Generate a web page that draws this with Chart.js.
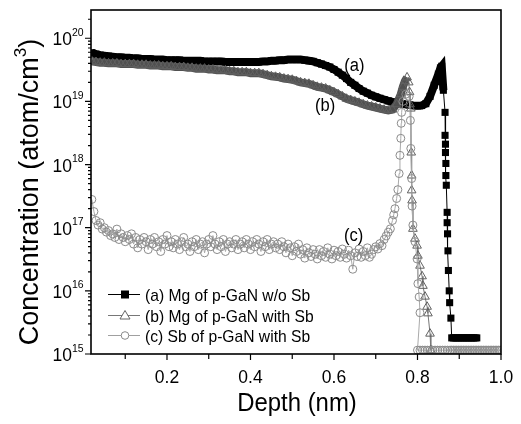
<!DOCTYPE html>
<html><head><meta charset="utf-8">
<script src="https://cdn.jsdelivr.net/npm/chart.js@4.4.1/dist/chart.umd.min.js"></script>
<style>html,body{margin:0;padding:0;background:#fff}</style>
</head><body>
<canvas id="c" width="521" height="424"></canvas>
<script>
// ---------- DATA ----------
const depthA = [
0.02,0.03,0.04,0.05,0.06,0.07,0.08,0.09,0.10,0.11,
0.12,0.13,0.14,0.15,0.16,0.17,0.18,0.19,0.20,0.21,
0.22,0.23,0.24,0.25,0.26,0.27,0.28,0.29,0.30,0.31,
0.32,0.33,0.34,0.35,0.36,0.37,0.38,0.39,0.40,0.41,
0.42,0.43,0.44,0.45,0.46,0.47,0.48,0.49,0.50,0.51,
0.52,0.53,0.54,0.55,0.56,0.57,0.58,0.59,0.60,0.61,
0.62,0.63,0.64,0.65,0.66,0.67,0.68,0.69,0.70,0.71,
0.72,0.73,0.74,0.75,0.76,0.77,0.78,0.79,0.80,0.81,
0.82,0.83,0.84,0.85,0.855,0.858,0.862,
0.866,0.866,0.867,0.867,0.868,0.868,0.869,0.871,0.871,0.872,0.873,0.874,0.876,0.877,0.880,0.882,
0.886,0.890,0.894,0.898,0.902,0.906,0.910,0.914,0.918,0.922,0.926,0.930,0.934,0.938,0.942];
const concA = [
5.9e19,5.6e19,5.4e19,5.3e19,5.2e19,5.1e19,5.0e19,5.0e19,4.9e19,4.9e19,
4.8e19,4.8e19,4.7e19,4.7e19,4.7e19,4.6e19,4.6e19,4.6e19,4.5e19,4.5e19,
4.5e19,4.5e19,4.4e19,4.4e19,4.4e19,4.4e19,4.4e19,4.3e19,4.3e19,4.3e19,
4.3e19,4.3e19,4.2e19,4.2e19,4.2e19,4.2e19,4.2e19,4.2e19,4.2e19,4.2e19,
4.2e19,4.3e19,4.3e19,4.4e19,4.4e19,4.5e19,4.5e19,4.6e19,4.6e19,4.6e19,
4.6e19,4.5e19,4.4e19,4.3e19,4.1e19,3.9e19,3.7e19,3.5e19,3.2e19,2.9e19,
2.6e19,2.3e19,2.0e19,1.8e19,1.6e19,1.45e19,1.35e19,1.25e19,1.18e19,1.12e19,
1.07e19,1.02e19,9.8e18,9.5e18,9.2e18,9.0e18,8.8e18,8.6e18,8.5e18,8.6e18,
9.2e18,1.2e19,1.8e19,2.7e19,3.4e19,3.6e19,1.5e19,
6.7e18,2.9e18,2.1e18,1.55e18,1.04e18,6.7e17,4.7e17,1.75e17,1.2e17,8e16,4.3e16,2.1e16,1.0e16,6.5e15,3.7e15,1.8e15,
1.8e15,1.8e15,1.8e15,1.8e15,1.8e15,1.8e15,1.8e15,1.8e15,1.8e15,1.8e15,1.8e15,1.8e15,1.8e15,1.8e15,1.8e15];

const depthB = [
0.02,0.03,0.04,0.05,0.06,0.07,0.08,0.09,0.10,0.11,
0.12,0.13,0.14,0.15,0.16,0.17,0.18,0.19,0.20,0.21,
0.22,0.23,0.24,0.25,0.26,0.27,0.28,0.29,0.30,0.31,
0.32,0.33,0.34,0.35,0.36,0.37,0.38,0.39,0.40,0.41,
0.42,0.43,0.44,0.45,0.46,0.47,0.48,0.49,0.50,0.51,
0.52,0.53,0.54,0.55,0.56,0.57,0.58,0.59,0.60,0.61,
0.62,0.63,0.64,0.65,0.66,0.67,0.68,0.69,0.70,0.71,
0.72,0.73,0.74,0.75,0.76,0.765,0.77,0.775,
0.779,0.781,0.782,0.784,0.785,0.786,0.786,0.787,0.789,0.794,0.799,0.801,0.806,0.811,0.813,0.818,0.823,0.825,0.830,0.832];
const concB = [
4.3e19,4.2e19,4.1e19,4.1e19,4.0e19,4.0e19,4.0e19,3.9e19,3.9e19,3.9e19,
3.9e19,3.8e19,3.8e19,3.8e19,3.7e19,3.7e19,3.7e19,3.6e19,3.6e19,3.6e19,
3.5e19,3.5e19,3.5e19,3.4e19,3.4e19,3.3e19,3.3e19,3.3e19,3.2e19,3.2e19,
3.1e19,3.1e19,3.1e19,3.0e19,3.0e19,2.9e19,2.9e19,2.9e19,2.8e19,2.8e19,
2.8e19,2.7e19,2.6e19,2.5e19,2.45e19,2.4e19,2.3e19,2.25e19,2.2e19,2.1e19,
2.0e19,1.95e19,1.9e19,1.8e19,1.7e19,1.65e19,1.6e19,1.5e19,1.4e19,1.3e19,
1.2e19,1.1e19,1.05e19,1.0e19,9.5e18,9.0e18,8.6e18,8.3e18,8.0e18,7.7e18,
7.4e18,7.2e18,7.4e18,9.0e18,1.3e19,1.7e19,2.1e19,2.4e19,
2.0e19,1.4e19,9.0e18,7.7e18,1.55e18,6.7e17,3.9e17,2.7e17,9.6e16,6.7e16,5.2e16,3.6e16,2.5e16,1.7e16,1.2e16,8.1e15,5.6e15,4.4e15,2.1e15,1.15e15];

const depthC = [
0.020,0.025,0.030,0.035,0.040,0.045,0.050,0.055,0.060,0.065,
0.070,0.075,0.080,0.085,0.090,0.095,0.100,0.105,0.110,0.115,
0.120,0.125,0.130,0.135,0.140,0.145,0.150,0.155,0.160,0.165,
0.170,0.175,0.180,0.185,0.190,0.195,0.200,0.205,0.210,0.215,
0.220,0.225,0.230,0.235,0.240,0.245,0.250,0.255,0.260,0.265,
0.270,0.275,0.280,0.285,0.290,0.295,0.300,0.305,0.310,0.315,
0.320,0.325,0.330,0.335,0.340,0.345,0.350,0.355,0.360,0.365,
0.370,0.375,0.380,0.385,0.390,0.395,0.400,0.405,0.410,0.415,
0.420,0.425,0.430,0.435,0.440,0.445,0.450,0.455,0.460,0.465,
0.470,0.475,0.480,0.485,0.490,0.495,0.500,0.505,0.510,0.515,
0.520,0.525,0.530,0.535,0.540,0.545,0.550,0.555,0.560,0.565,
0.570,0.575,0.580,0.585,0.590,0.595,0.600,0.605,0.610,0.615,
0.620,0.625,0.630,0.635,0.640,0.645,0.650,0.655,0.660,0.665,
0.670,0.675,0.680,0.685,0.690,0.695,0.700,0.705,0.710,0.715,
0.720,0.725,0.730,0.735,0.740,0.743,0.746,0.750,0.753,0.756,
0.758,0.760,0.761,0.762,0.765,0.772,0.780,0.783,0.784,0.786,
0.787,0.789,0.794,0.799,0.801,0.804,0.806,
0.800,0.806,0.812,0.818,0.824,0.830,0.836,0.842,0.848,0.854,
0.860,0.866,0.872,0.878,0.882,0.886,0.890,0.894,0.898,0.902,
0.906,0.910,0.914,0.918,0.922,0.926,0.930,0.934,0.938,0.942,
0.946,0.950,0.954,0.958,0.962,0.966,0.970,0.974,0.978,0.982,
0.986,0.990,0.994,0.998];
const concC = [
2.8e17,1.8e17,1.3e17,1.1e17,1.2e17,9.5e16,1.0e17,8.5e16,9.0e16,7.5e16,
8.0e16,7.0e16,9.5e16,6.5e16,8.0e16,7.0e16,6.0e16,7.5e16,6.5e16,8.0e16,
5.5e16,7.0e16,4.8e16,6.5e16,5.5e16,7.0e16,6.0e16,4.5e16,6.5e16,5.5e16,
7.0e16,5.0e16,6.0e16,4.2e16,6.5e16,5.5e16,7.5e16,5.0e16,6.0e16,4.8e16,
6.5e16,5.5e16,4.5e16,6.0e16,7.0e16,5.0e16,5.5e16,4.2e16,6.0e16,5.0e16,
6.5e16,4.5e16,5.5e16,6.0e16,4.0e16,5.5e16,6.5e16,5.0e16,7.5e16,5.5e16,
4.5e16,6.0e16,5.0e16,6.5e16,4.2e16,5.5e16,6.0e16,4.8e16,5.5e16,6.5e16,
4.5e16,5.5e16,6.0e16,4.8e16,6.5e16,5.5e16,4.5e16,6.0e16,5.0e16,6.5e16,
5.5e16,4.2e16,6.0e16,5.0e16,6.5e16,4.5e16,5.5e16,6.0e16,4.8e16,5.5e16,
4.5e16,6.0e16,5.0e16,4.0e16,5.5e16,4.8e16,3.6e16,5.0e16,4.2e16,5.5e16,
3.8e16,4.5e16,3.3e16,4.8e16,4.0e16,3.5e16,4.5e16,3.8e16,3.2e16,4.5e16,
3.6e16,4.2e16,3.4e16,4.8e16,3.8e16,3.2e16,4.4e16,3.6e16,4.2e16,3.4e16,
4.6e16,3.8e16,3.3e16,4.4e16,3.6e16,2.2e16,4.0e16,3.5e16,4.6e16,3.4e16,
4.2e16,3.6e16,4.8e16,3.4e16,3.8e16,4.5e16,5.0e16,4.6e16,5.6e16,5.2e16,
6.5e16,7.4e16,8.5e16,9.6e16,1.3e17,1.6e17,2.0e17,2.9e17,4.0e17,7.2e17,
1.4e18,2.6e18,4.5e18,6.7e18,1.0e19,1.3e19,1.2e19,5.0e18,1.8e18,6.0e17,
2.2e17,1.1e17,6.0e16,3.2e16,1.3e16,8.0e15,4.5e15,
1.15e15,1.15e15,1.15e15,1.15e15,1.15e15,1.15e15,1.15e15,1.15e15,1.15e15,1.15e15,
1.15e15,1.15e15,1.15e15,1.15e15,1.15e15,1.15e15,1.15e15,1.15e15,1.15e15,1.15e15,
1.15e15,1.15e15,1.15e15,1.15e15,1.15e15,1.15e15,1.15e15,1.15e15,1.15e15,1.15e15,
1.15e15,1.15e15,1.15e15,1.15e15,1.15e15,1.15e15,1.15e15,1.15e15,1.15e15,1.15e15,
1.15e15,1.15e15,1.15e15,1.15e15];

const seriesLabels = ['(a) Mg of p-GaN w/o Sb','(b) Mg of p-GaN with Sb','(c) Sb of p-GaN with Sb'];
const xMajorTicks = [0.2,0.4,0.6,0.8,1.0];
const xMajorLabels = ['0.2','0.4','0.6','0.8','1.0'];
const xMinorTicks = [0.1,0.3,0.5,0.7,0.9];
const yDecades = [15,16,17,18,19,20];
const notes = [{t:'(a)',x:0.649,y:3.6e19},{t:'(b)',x:0.579,y:8.3e18},{t:'(c)',x:0.647,y:7.4e16}];
const xTitle = 'Depth (nm)';
const yTitle = ['Concentration (atom/cm','3',')'];

// ---------- CHART ----------
const FONT = '"Liberation Sans", Arial, Helvetica, sans-serif';
const bandEndA = 0.862, bandEndB = 0.775;
const pts = (xs, ys) => xs.map((x,i)=>({x:x, y:ys[i]}));

function sText(ctx, s, x, y, size, align, sx, baseline){
  ctx.save();
  ctx.font = size + 'px ' + FONT;
  ctx.textAlign = align; ctx.textBaseline = baseline || 'alphabetic';
  ctx.translate(x, y); ctx.scale(sx, 1);
  ctx.fillText(s, 0, 0);
  ctx.restore();
}

const deco = {
  id:'deco',
  beforeDraw(chart){ const c=chart.ctx; c.save(); c.fillStyle='#fff'; c.fillRect(0,0,chart.width,chart.height); c.restore(); },
  afterDatasetsDraw(chart){
    const ctx=chart.ctx, a=chart.chartArea, xs=chart.scales.x, ys=chart.scales.y;
    ctx.save();
    ctx.fillStyle='#000'; ctx.strokeStyle='#000';
    // frame
    ctx.lineWidth=1.6;
    ctx.strokeRect(a.left, a.top, a.right-a.left, a.bottom-a.top);
    // x ticks
    ctx.lineWidth=1.2; ctx.beginPath();
    xMajorTicks.forEach(v=>{const p=xs.getPixelForValue(v); ctx.moveTo(p,a.bottom); ctx.lineTo(p,a.bottom+6);});
    xMinorTicks.forEach(v=>{const p=xs.getPixelForValue(v); ctx.moveTo(p,a.bottom); ctx.lineTo(p,a.bottom+5);});
    // y ticks
    yDecades.forEach(d=>{
      const p=ys.getPixelForValue(Math.pow(10,d)); ctx.moveTo(a.left,p); ctx.lineTo(a.left-6,p);
      for(let m=2;m<=9;m++){ const v=m*Math.pow(10,d); if(v<=ys.max){ const q=ys.getPixelForValue(v); ctx.moveTo(a.left,q); ctx.lineTo(a.left-3,q);} }
    });
    ctx.stroke();
    // x labels
    xMajorTicks.forEach((v,i)=>sText(ctx,xMajorLabels[i],xs.getPixelForValue(v),a.bottom+29,19,'center',0.92));
    // y labels
    yDecades.forEach(d=>{
      const p=ys.getPixelForValue(Math.pow(10,d));
      sText(ctx,'10',a.left-19,p+7,19,'right',0.92);
      sText(ctx,String(d),a.left-19,p-2.5,11,'left',0.95);
    });
    // x title
    sText(ctx,xTitle,(a.left+a.right)/2+1,a.bottom+57,26,'center',0.92);
    // y title (rotated)
    ctx.save();
    ctx.translate(38,(a.top+a.bottom)/2+10);
    ctx.rotate(-Math.PI/2);
    ctx.font='27px '+FONT; const w1=ctx.measureText(yTitle[0]).width, w3=ctx.measureText(yTitle[2]).width;
    ctx.font='17px '+FONT; const w2=ctx.measureText(yTitle[1]).width;
    let x0=-(w1+w2+w3)/2;
    ctx.textBaseline='alphabetic'; ctx.textAlign='left';
    ctx.font='27px '+FONT; ctx.fillText(yTitle[0],x0,0);
    ctx.font='17px '+FONT; ctx.fillText(yTitle[1],x0+w1,-12);
    ctx.font='27px '+FONT; ctx.fillText(yTitle[2],x0+w1+w2,0);
    ctx.restore();
    // annotations
    notes.forEach(n=>sText(ctx,n.t,xs.getPixelForValue(n.x),ys.getPixelForValue(n.y),18,'center',0.92,'middle'));
    // legend
    const rows=[294,315,335];
    const lcol=['#000','#777','#a0a0a0'];
    rows.forEach((yy,i)=>{
      ctx.strokeStyle=lcol[i]; ctx.lineWidth=1;
      ctx.beginPath(); ctx.moveTo(108,yy+0.5); ctx.lineTo(140,yy+0.5); ctx.stroke();
      if(i===0){ ctx.fillStyle='#000'; ctx.fillRect(121,yy-3.5,8,8); }
      else if(i===1){ ctx.fillStyle='#fff'; ctx.strokeStyle='#666'; ctx.beginPath(); ctx.moveTo(125,yy-4.5); ctx.lineTo(130,yy+4); ctx.lineTo(120,yy+4); ctx.closePath(); ctx.fill(); ctx.stroke(); }
      else { ctx.fillStyle='#fff'; ctx.strokeStyle='#8a8a8a'; ctx.beginPath(); ctx.arc(125,yy+0.5,3.8,0,Math.PI*2); ctx.fill(); ctx.stroke(); }
      ctx.fillStyle='#000';
      sText(ctx,seriesLabels[i],145,yy+6.5,17,'left',0.92);
    });
    ctx.restore();
  }
};

new Chart(document.getElementById('c'), {
  type:'line',
  data:{ datasets:[
    { label:seriesLabels[0], data:pts(depthA,concA), order:3,
      borderColor:'#000', borderWidth:1,
      segment:{ borderWidth: c => depthA[c.p1DataIndex] <= bandEndA ? 8 : 1 },
      pointStyle:'rect', pointRadius:5, pointBackgroundColor:'#000', pointBorderColor:'#000', pointBorderWidth:0 },
    { label:seriesLabels[1], data:pts(depthB,concB), order:2,
      borderColor:'#555', borderWidth:1,
      segment:{ borderWidth: c => depthB[c.p1DataIndex] <= bandEndB ? 8 : 1, borderColor: c => depthB[c.p1DataIndex] <= bandEndB ? '#505050' : '#777' },
      pointStyle:'triangle', pointRadius:5, pointBackgroundColor:'rgba(255,255,255,0)', pointBorderColor:'#606060', pointBorderWidth:1 },
    { label:seriesLabels[2], data:pts(depthC,concC), order:1,
      borderColor:'#aaa', borderWidth:1,
      pointStyle:'circle', pointRadius:4, pointBackgroundColor:'rgba(255,255,255,0)', pointBorderColor:'#8c8c8c', pointBorderWidth:1 }
  ]},
  options:{
    responsive:false, animation:false, devicePixelRatio:1,
    layout:{ padding:{left:0,right:20,top:10,bottom:0} },
    elements:{ line:{ tension:0 } },
    plugins:{ legend:{display:false}, tooltip:{enabled:false} },
    scales:{
      x:{ type:'linear', min:0.018, max:1.0, ticks:{display:false}, grid:{display:false}, border:{display:false},
          afterFit: s => { s.height = 70; } },
      y:{ type:'logarithmic', min:1e15, max:2.8e20, ticks:{display:false}, grid:{display:false}, border:{display:false},
          afterFit: s => { s.width = 91; } }
    }
  },
  plugins:[deco]
});
</script>
</body></html>
